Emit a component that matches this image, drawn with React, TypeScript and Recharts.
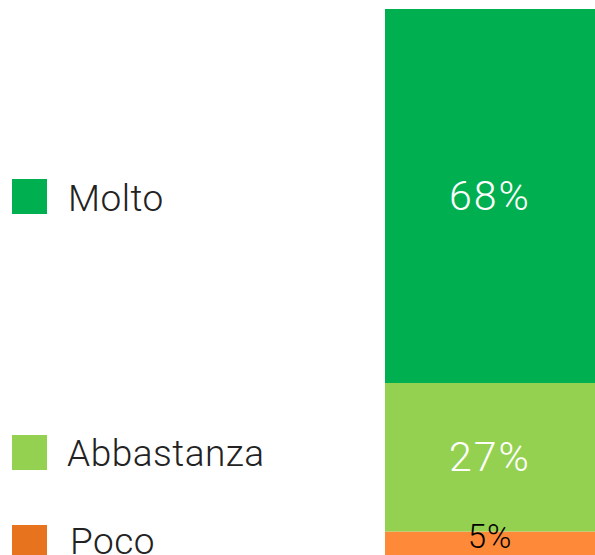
import React from 'react';
import { BarChart, Bar, XAxis, YAxis, LabelList } from 'recharts';

// Stacked single bar, bottom to top
const SERIES = ['Poco', 'Abbastanza', 'Molto'];
const VALUES = [5, 27, 68];
const BAR_COLORS = ['#fe8a39', '#94d151', '#00b050'];
const LEGEND_COLORS = ['#e8731e', '#94d151', '#00b050'];
const LABEL_COLORS = ['#000000', '#ffffff', '#ffffff'];

const data = [
  SERIES.reduce((row: any, name, i) => {
    row[name] = VALUES[i];
    return row;
  }, { name: 'totale' }),
];

const FONT = 'Roboto, "Open Sans", sans-serif';

// legend rows, top to bottom: square top, text left, text nudge
const LEGEND_ROWS = [
  { i: 2, top: 179, textLeft: 68, nudge: 0 },
  { i: 1, top: 435, textLeft: 67, nudge: -1 },
  { i: 0, top: 525, textLeft: 70, nudge: -3 },
];

const makeLabel = (color: string, size: number, shift: number) => (props: any) => {
  const { x, y, width, height, value } = props;
  return (
    <text
      x={x + width / 2}
      y={y + height / 2 + shift}
      fill={color}
      fontSize={size}
      fontWeight={300}
      fontFamily={FONT}
      letterSpacing={size > 35 ? 2 : 1}
      textAnchor="middle"
      dominantBaseline="central"
    >
      {value}%
    </text>
  );
};

const App: React.FC = () => {
  return (
    <div style={{ position: 'absolute', left: 0, top: 0, width: 595, height: 555, overflow: 'hidden', background: '#fff' }}>
      <BarChart
        width={595}
        height={559}
        data={data}
        margin={{ top: 9, right: 0, left: 385, bottom: 0 }}
        barCategoryGap={0}
      >
        <XAxis dataKey="name" hide />
        <YAxis hide domain={[0, 100]} />
        {SERIES.map((s, i) => (
          <Bar key={s} dataKey={s} stackId="a" fill={BAR_COLORS[i]} isAnimationActive={false}>
            <LabelList
              dataKey={s}
              content={makeLabel(LABEL_COLORS[i], i === 0 ? 33 : 41, i === 0 ? -9 : 0)}
            />
          </Bar>
        ))}
      </BarChart>
      {LEGEND_ROWS.map(r => (
        <div key={SERIES[r.i]} style={{ position: 'absolute', left: 12, top: r.top, height: 35 }}>
          <div style={{ position: 'absolute', left: 0, top: 0, width: 35, height: 35, background: LEGEND_COLORS[r.i] }} />
          <div
            style={{
              position: 'absolute',
              left: r.textLeft - 12,
              top: r.nudge + 7,
              lineHeight: '26px',
              fontSize: 37,
              fontWeight: 300,
              fontFamily: FONT,
              letterSpacing: 0.5,
              color: '#222',
              whiteSpace: 'nowrap',
            }}
          >
            {SERIES[r.i]}
          </div>
        </div>
      ))}
    </div>
  );
};

export default App;
